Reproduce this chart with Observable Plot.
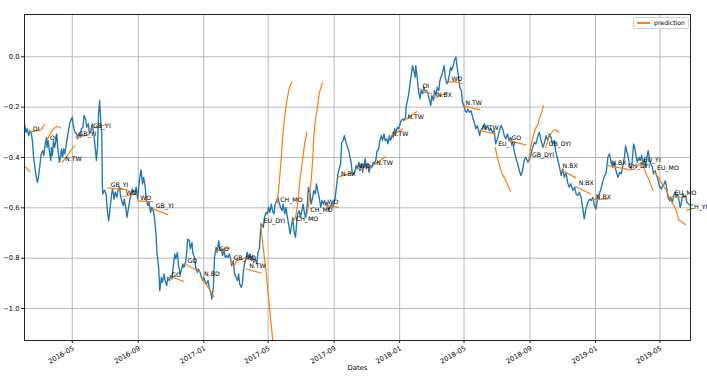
<!DOCTYPE html>
<html><head><meta charset="utf-8">
<script src="https://cdn.jsdelivr.net/npm/d3@7"></script>
<script src="https://cdn.jsdelivr.net/npm/@observablehq/plot@0.6"></script>
<style>
body{margin:0;background:#fff;}
#wrap{position:relative;width:707px;height:389px;font-family:"DejaVu Sans",sans-serif;}
#legend{position:absolute;left:633px;top:17px;width:54px;height:10px;border:1px solid #d0d0d0;border-radius:2px;background:#fff;font-size:6.2px;color:#000;}
#legend .sw{position:absolute;left:3px;top:4px;width:13px;height:1.5px;background:#ff7f0e;}
#legend .lb{position:absolute;left:20px;top:1px;line-height:8px;color:#000;}
</style></head>
<body><div id="wrap"></div>
<script>
const s2016 = [
["2016-02-02",-0.266],["2016-02-05",-0.30],["2016-02-07",-0.286],["2016-02-10",-0.313],["2016-02-12",-0.293],["2016-02-15",-0.306],["2016-02-17",-0.34],["2016-02-19",-0.40],["2016-02-23",-0.465],["2016-02-26",-0.499],["2016-02-28",-0.479],["2016-03-02",-0.425],["2016-03-04",-0.386],["2016-03-07",-0.373],["2016-03-09",-0.392],["2016-03-12",-0.34],["2016-03-14",-0.32],["2016-03-15",-0.36],["2016-03-17",-0.333],["2016-03-20",-0.386],["2016-03-22",-0.412],["2016-03-23",-0.36],["2016-03-25",-0.392],["2016-03-27",-0.333],["2016-03-29",-0.36],["2016-03-31",-0.34],["2016-04-02",-0.306],["2016-04-04",-0.36],["2016-04-05",-0.379],["2016-04-07",-0.419],["2016-04-09",-0.399],["2016-04-11",-0.366],["2016-04-13",-0.399],["2016-04-15",-0.366],["2016-04-17",-0.386],["2016-04-19",-0.36],["2016-04-21",-0.333],["2016-04-24",-0.293],["2016-04-26",-0.266],["2016-04-28",-0.253],["2016-05-01",-0.24],["2016-05-03",-0.273],["2016-05-06",-0.30],["2016-05-09",-0.306],["2016-05-11",-0.326],["2016-05-13",-0.306],["2016-05-16",-0.32],["2016-05-18",-0.286],["2016-05-21",-0.28],["2016-05-23",-0.233],["2016-05-26",-0.247],["2016-05-28",-0.28],["2016-05-31",-0.266],["2016-06-02",-0.306],["2016-06-05",-0.293],["2016-06-07",-0.266],["2016-06-10",-0.306],["2016-06-12",-0.346],["2016-06-15",-0.412],["2016-06-17",-0.36],["2016-06-19",-0.227],["2016-06-21",-0.174],["2016-06-23",-0.253],["2016-06-25",-0.306],["2016-06-26",-0.505],["2016-06-27",-0.545],["2016-06-30",-0.53],["2016-07-03",-0.545],["2016-07-06",-0.624],["2016-07-08",-0.651],["2016-07-10",-0.611],["2016-07-13",-0.551],["2016-07-15",-0.525],["2016-07-18",-0.565],["2016-07-20",-0.538],["2016-07-23",-0.558],["2016-07-25",-0.531],["2016-07-28",-0.518],["2016-07-30",-0.551],["2016-08-01",-0.571],["2016-08-04",-0.591],["2016-08-06",-0.565],["2016-08-09",-0.604],["2016-08-11",-0.638],["2016-08-14",-0.598],["2016-08-16",-0.571],["2016-08-19",-0.545],["2016-08-21",-0.525],["2016-08-25",-0.545],["2016-08-28",-0.518],["2016-08-31",-0.565],["2016-09-03",-0.492],["2016-09-06",-0.449],["2016-09-09",-0.505],["2016-09-11",-0.479],["2016-09-14",-0.518],["2016-09-16",-0.571],["2016-09-19",-0.591],["2016-09-21",-0.578],["2016-09-24",-0.618],["2016-09-26",-0.598],["2016-09-29",-0.611],["2016-10-01",-0.638],["2016-10-04",-0.704],["2016-10-06",-0.783],["2016-10-09",-0.837],["2016-10-11",-0.929],["2016-10-14",-0.876],["2016-10-16",-0.896],["2016-10-19",-0.863],["2016-10-21",-0.889],["2016-10-24",-0.909],["2016-10-26",-0.876],["2016-10-29",-0.889],["2016-10-31",-0.87],["2016-11-03",-0.883],["2016-11-05",-0.837],["2016-11-08",-0.783],["2016-11-10",-0.803],["2016-11-13",-0.777],["2016-11-15",-0.83],["2016-11-18",-0.863],["2016-11-20",-0.85],["2016-11-23",-0.823],["2016-11-25",-0.837],["2016-11-28",-0.817],["2016-11-30",-0.783],["2016-12-02",-0.724],["2016-12-05",-0.73],["2016-12-07",-0.763],["2016-12-10",-0.737],["2016-12-12",-0.783],["2016-12-15",-0.797],["2016-12-17",-0.837],["2016-12-20",-0.856],["2016-12-22",-0.843],["2016-12-25",-0.856],["2016-12-27",-0.87],["2016-12-30",-0.889]
];
const s2017 = [
["2017-01-01",-0.876],["2017-01-04",-0.896],["2017-01-06",-0.903],["2017-01-09",-0.889],["2017-01-11",-0.916],["2017-01-14",-0.936],["2017-01-16",-0.962],["2017-01-19",-0.916],["2017-01-21",-0.797],["2017-01-24",-0.757],["2017-01-26",-0.777],["2017-01-29",-0.731],["2017-01-31",-0.77],["2017-02-03",-0.763],["2017-02-05",-0.79],["2017-02-08",-0.77],["2017-02-10",-0.797],["2017-02-13",-0.79],["2017-02-15",-0.797],["2017-02-18",-0.783],["2017-02-20",-0.803],["2017-02-22",-0.83],["2017-02-25",-0.81],["2017-02-27",-0.856],["2017-03-02",-0.876],["2017-03-05",-0.889],["2017-03-07",-0.863],["2017-03-09",-0.903],["2017-03-12",-0.916],["2017-03-14",-0.9],["2017-03-16",-0.85],["2017-03-18",-0.823],["2017-03-21",-0.797],["2017-03-23",-0.777],["2017-03-26",-0.797],["2017-03-28",-0.783],["2017-03-31",-0.81],["2017-04-02",-0.79],["2017-04-04",-0.817],["2017-04-07",-0.803],["2017-04-10",-0.823],["2017-04-12",-0.777],["2017-04-15",-0.757],["2017-04-17",-0.678],["2017-04-19",-0.664],["2017-04-22",-0.678],["2017-04-24",-0.638],["2017-04-27",-0.618],["2017-04-29",-0.624],["2017-05-02",-0.598],["2017-05-04",-0.618],["2017-05-07",-0.585],["2017-05-09",-0.611],["2017-05-12",-0.624],["2017-05-14",-0.585],["2017-05-17",-0.571],["2017-05-19",-0.558],["2017-05-22",-0.585],["2017-05-24",-0.598],["2017-05-27",-0.611],["2017-05-29",-0.585],["2017-06-01",-0.624],["2017-06-03",-0.598],["2017-06-06",-0.638],["2017-06-08",-0.664],["2017-06-11",-0.704],["2017-06-13",-0.678],["2017-06-16",-0.638],["2017-06-18",-0.691],["2017-06-21",-0.717],["2017-06-23",-0.664],["2017-06-25",-0.624],["2017-06-28",-0.611],["2017-06-30",-0.638],["2017-07-03",-0.611],["2017-07-05",-0.585],["2017-07-08",-0.624],["2017-07-10",-0.638],["2017-07-13",-0.585],["2017-07-15",-0.518],["2017-07-18",-0.545],["2017-07-20",-0.585],["2017-07-23",-0.558],["2017-07-25",-0.531],["2017-07-28",-0.545],["2017-07-30",-0.505],["2017-08-02",-0.538],["2017-08-04",-0.558],["2017-08-07",-0.598],["2017-08-09",-0.571],["2017-08-12",-0.585],["2017-08-14",-0.571],["2017-08-17",-0.591],["2017-08-19",-0.578],["2017-08-22",-0.611],["2017-08-24",-0.598],["2017-08-27",-0.585],["2017-08-29",-0.598],["2017-09-01",-0.578],["2017-09-03",-0.558],["2017-09-06",-0.505],["2017-09-08",-0.465],["2017-09-11",-0.439],["2017-09-13",-0.425],["2017-09-15",-0.34],["2017-09-18",-0.333],["2017-09-20",-0.313],["2017-09-23",-0.34],["2017-09-25",-0.353],["2017-09-28",-0.373],["2017-09-30",-0.392],["2017-10-03",-0.425],["2017-10-05",-0.47],["2017-10-09",-0.459],["2017-10-12",-0.432],["2017-10-14",-0.445],["2017-10-17",-0.419],["2017-10-19",-0.452],["2017-10-22",-0.425],["2017-10-24",-0.459],["2017-10-26",-0.432],["2017-10-29",-0.406],["2017-10-31",-0.445],["2017-11-03",-0.425],["2017-11-05",-0.459],["2017-11-08",-0.432],["2017-11-10",-0.439],["2017-11-13",-0.419],["2017-11-15",-0.425],["2017-11-18",-0.406],["2017-11-20",-0.373],["2017-11-23",-0.366],["2017-11-25",-0.333],["2017-11-28",-0.313],["2017-11-30",-0.333],["2017-12-03",-0.306],["2017-12-05",-0.333],["2017-12-08",-0.326],["2017-12-10",-0.346],["2017-12-13",-0.313],["2017-12-15",-0.333],["2017-12-18",-0.313],["2017-12-20",-0.32],["2017-12-23",-0.286],["2017-12-25",-0.30],["2017-12-28",-0.28],["2017-12-30",-0.286]
];
const s2018 = [
["2018-01-02",-0.266],["2018-01-04",-0.253],["2018-01-07",-0.247],["2018-01-09",-0.253],["2018-01-12",-0.24],["2018-01-13",-0.20],["2018-01-15",-0.18],["2018-01-18",-0.147],["2018-01-20",-0.114],["2018-01-23",-0.068],["2018-01-25",-0.035],["2018-01-28",-0.061],["2018-01-30",-0.081],["2018-01-31",-0.035],["2018-02-03",-0.087],["2018-02-05",-0.134],["2018-02-08",-0.167],["2018-02-10",-0.134],["2018-02-13",-0.147],["2018-02-15",-0.121],["2018-02-18",-0.141],["2018-02-20",-0.134],["2018-02-23",-0.147],["2018-02-25",-0.167],["2018-02-28",-0.194],["2018-03-02",-0.154],["2018-03-05",-0.174],["2018-03-07",-0.134],["2018-03-10",-0.154],["2018-03-12",-0.121],["2018-03-15",-0.134],["2018-03-17",-0.094],["2018-03-20",-0.074],["2018-03-22",-0.061],["2018-03-25",-0.035],["2018-03-27",-0.081],["2018-03-30",-0.107],["2018-04-01",-0.101],["2018-04-04",-0.068],["2018-04-06",-0.041],["2018-04-08",-0.054],["2018-04-11",-0.035],["2018-04-13",-0.015],["2018-04-16",-0.001],["2018-04-18",-0.041],["2018-04-21",-0.081],["2018-04-23",-0.121],["2018-04-26",-0.134],["2018-04-28",-0.18],["2018-05-01",-0.194],["2018-05-03",-0.214],["2018-05-06",-0.22],["2018-05-08",-0.207],["2018-05-11",-0.22],["2018-05-14",-0.214],["2018-05-17",-0.24],["2018-05-20",-0.26],["2018-05-23",-0.286],["2018-05-26",-0.273],["2018-05-30",-0.313],["2018-06-01",-0.293],["2018-06-05",-0.28],["2018-06-08",-0.266],["2018-06-11",-0.286],["2018-06-14",-0.273],["2018-06-17",-0.293],["2018-06-20",-0.286],["2018-06-23",-0.30],["2018-06-26",-0.293],["2018-06-29",-0.346],["2018-07-03",-0.32],["2018-07-06",-0.293],["2018-07-09",-0.273],["2018-07-12",-0.286],["2018-07-15",-0.313],["2018-07-18",-0.326],["2018-07-21",-0.306],["2018-07-24",-0.333],["2018-07-27",-0.32],["2018-07-31",-0.346],["2018-08-03",-0.379],["2018-08-06",-0.406],["2018-08-09",-0.425],["2018-08-12",-0.452],["2018-08-15",-0.472],["2018-08-18",-0.452],["2018-08-21",-0.412],["2018-08-24",-0.399],["2018-08-28",-0.419],["2018-08-31",-0.406],["2018-09-03",-0.386],["2018-09-06",-0.36],["2018-09-09",-0.34],["2018-09-12",-0.346],["2018-09-15",-0.32],["2018-09-18",-0.30],["2018-09-21",-0.326],["2018-09-25",-0.36],["2018-09-28",-0.34],["2018-10-01",-0.313],["2018-10-04",-0.333],["2018-10-07",-0.306],["2018-10-10",-0.32],["2018-10-13",-0.346],["2018-10-16",-0.333],["2018-10-19",-0.379],["2018-10-23",-0.412],["2018-10-26",-0.439],["2018-10-29",-0.472],["2018-11-01",-0.445],["2018-11-04",-0.479],["2018-11-07",-0.459],["2018-11-10",-0.499],["2018-11-13",-0.518],["2018-11-16",-0.505],["2018-11-20",-0.531],["2018-11-23",-0.518],["2018-11-26",-0.545],["2018-11-29",-0.551],["2018-12-02",-0.538],["2018-12-05",-0.558],["2018-12-08",-0.598],["2018-12-11",-0.644],["2018-12-14",-0.604],["2018-12-18",-0.578],["2018-12-21",-0.565],["2018-12-24",-0.571],["2018-12-27",-0.558],["2018-12-30",-0.591]
];
const s2019 = [
["2019-01-02",-0.604],["2019-01-05",-0.558],["2019-01-08",-0.545],["2019-01-11",-0.525],["2019-01-15",-0.492],["2019-01-18",-0.472],["2019-01-21",-0.459],["2019-01-24",-0.399],["2019-01-27",-0.386],["2019-01-30",-0.419],["2019-02-02",-0.439],["2019-02-05",-0.419],["2019-02-08",-0.452],["2019-02-12",-0.479],["2019-02-15",-0.459],["2019-02-18",-0.465],["2019-02-21",-0.432],["2019-02-24",-0.399],["2019-02-26",-0.353],["2019-02-28",-0.373],["2019-03-03",-0.399],["2019-03-05",-0.425],["2019-03-08",-0.445],["2019-03-10",-0.425],["2019-03-13",-0.346],["2019-03-15",-0.36],["2019-03-18",-0.399],["2019-03-20",-0.419],["2019-03-23",-0.399],["2019-03-25",-0.412],["2019-03-28",-0.392],["2019-03-30",-0.425],["2019-04-02",-0.406],["2019-04-04",-0.439],["2019-04-07",-0.399],["2019-04-09",-0.373],["2019-04-12",-0.412],["2019-04-14",-0.425],["2019-04-17",-0.439],["2019-04-19",-0.465],["2019-04-22",-0.452],["2019-04-24",-0.465],["2019-04-27",-0.485],["2019-04-29",-0.505],["2019-05-01",-0.518],["2019-05-04",-0.525],["2019-05-06",-0.512],["2019-05-09",-0.505],["2019-05-11",-0.492],["2019-05-14",-0.525],["2019-05-16",-0.558],["2019-05-19",-0.571],["2019-05-21",-0.558],["2019-05-24",-0.578],["2019-05-26",-0.558],["2019-05-29",-0.538],["2019-05-31",-0.558],["2019-06-03",-0.545],["2019-06-05",-0.565],["2019-06-08",-0.598],["2019-06-10",-0.578],["2019-06-13",-0.545],["2019-06-15",-0.558],["2019-06-18",-0.551],["2019-06-20",-0.578],["2019-06-26",-0.59]
];

const predLabels = ["", "OI", "OI", "N.TW", "GB_YI", "GB_YI", "GB_YI", "WO", "WO", "GB_YI", "GO", "GO", "N.BD", "GO", "GB_MO", "N.TW", "EU_DYI", "CH_MO", "CH_MO", "CH_MO", "WO", "N.BX", "WO", "N.TW", "N.TW", "N.TW", "OI", "N.BX", "WO", "N.TW", "N.TW", "EU_YI", "GO", "GB_DYI", "GB_DYI", "N.BX", "N.BX", "N.BX", "N.BX", "CH_DYI", "EU_YI", "EU_MO", "EU_MO", "CH_YI"];
const predPaths = [
[["2016-02-02",-0.437],["2016-02-07",-0.444],["2016-02-12",-0.456]],
[["2016-02-12",-0.297],["2016-02-19",-0.296],["2016-02-27",-0.293],["2016-03-03",-0.29],["2016-03-06",-0.284],["2016-03-10",-0.269]],
[["2016-03-15",-0.333],["2016-03-22",-0.30],["2016-03-28",-0.284],["2016-04-03",-0.277],["2016-04-09",-0.282]],
[["2016-04-12",-0.419],["2016-04-22",-0.392],["2016-04-28",-0.373],["2016-05-05",-0.355]],
[["2016-05-07",-0.32],["2016-06-01",-0.31]],
[["2016-06-03",-0.286],["2016-07-02",-0.27]],
[["2016-07-06",-0.521],["2016-08-12",-0.529]],
[["2016-08-03",-0.555],["2016-08-31",-0.545]],
[["2016-08-30",-0.572],["2016-09-28",-0.575]],
[["2016-09-28",-0.604],["2016-10-26",-0.627]],
[["2016-10-27",-0.88],["2016-11-06",-0.877],["2016-11-24",-0.892]],
[["2016-11-26",-0.822],["2016-12-24",-0.854]],
[["2016-12-27",-0.876],["2017-01-04",-0.9],["2017-01-12",-0.925],["2017-01-20",-0.953]],
[["2017-01-24",-0.774],["2017-02-05",-0.765],["2017-02-18",-0.76]],
[["2017-02-20",-0.81],["2017-02-26",-0.835],["2017-03-03",-0.81],["2017-03-20",-0.80],["2017-04-06",-0.81]],
[["2017-03-21",-0.843],["2017-04-18",-0.859]],
[["2017-04-17",-0.664],["2017-04-21",-0.744],["2017-04-24",-0.797],["2017-04-27",-0.85],["2017-04-30",-0.916],["2017-05-03",-0.982],["2017-05-06",-1.049],["2017-05-09",-1.115],["2017-05-11",-1.16]],
[["2017-05-18",-0.58],["2017-05-22",-0.492],["2017-05-25",-0.412],["2017-05-28",-0.32],["2017-05-31",-0.253],["2017-06-03",-0.2],["2017-06-06",-0.161],["2017-06-09",-0.127],["2017-06-14",-0.101]],
[["2017-06-16",-0.658],["2017-06-21",-0.638],["2017-06-25",-0.585],["2017-06-29",-0.492],["2017-07-04",-0.412],["2017-07-08",-0.346],["2017-07-12",-0.30]],
[["2017-07-13",-0.62],["2017-07-16",-0.58],["2017-07-20",-0.492],["2017-07-23",-0.412],["2017-07-25",-0.32],["2017-07-28",-0.253],["2017-08-01",-0.2],["2017-08-04",-0.147],["2017-08-10",-0.103]],
[["2017-08-14",-0.59],["2017-09-09",-0.598]],
[["2017-09-08",-0.478],["2017-10-05",-0.46]],
[["2017-10-12",-0.445],["2017-11-09",-0.437]],
[["2017-11-13",-0.432],["2017-12-06",-0.397]],
[["2017-12-12",-0.32],["2018-01-07",-0.286]],
[["2018-01-10",-0.253],["2018-02-02",-0.217]],
[["2018-02-07",-0.127],["2018-03-02",-0.147]],
[["2018-03-06",-0.163],["2018-03-31",-0.143]],
[["2018-04-02",-0.101],["2018-04-15",-0.099],["2018-04-28",-0.107]],
[["2018-04-28",-0.194],["2018-05-30",-0.211]],
[["2018-05-29",-0.293],["2018-06-28",-0.306]],
[["2018-06-28",-0.36],["2018-07-02",-0.399],["2018-07-07",-0.439],["2018-07-11",-0.465],["2018-07-18",-0.492],["2018-07-22",-0.512],["2018-07-27",-0.534]],
[["2018-07-23",-0.333],["2018-08-24",-0.35]],
[["2018-08-30",-0.404],["2018-09-02",-0.36],["2018-09-05",-0.333],["2018-09-08",-0.306],["2018-09-11",-0.286],["2018-09-16",-0.266],["2018-09-19",-0.24],["2018-09-23",-0.22],["2018-09-26",-0.194]],
[["2018-09-30",-0.36],["2018-10-06",-0.32],["2018-10-13",-0.296],["2018-10-19",-0.29],["2018-10-25",-0.30]],
[["2018-10-26",-0.447],["2018-11-25",-0.48]],
[["2018-11-25",-0.515],["2018-12-23",-0.545]],
[["2018-12-27",-0.567],["2019-01-26",-0.565]],
[["2019-01-25",-0.432],["2019-02-25",-0.445]],
[["2019-02-25",-0.445],["2019-03-07",-0.449],["2019-03-15",-0.445],["2019-03-24",-0.425],["2019-03-28",-0.419]],
[["2019-03-26",-0.42],["2019-04-01",-0.44],["2019-04-04",-0.459],["2019-04-11",-0.49],["2019-04-18",-0.532]],
[["2019-04-20",-0.455],["2019-04-27",-0.475],["2019-05-03",-0.497],["2019-05-09",-0.517],["2019-05-15",-0.54],["2019-05-21",-0.57],["2019-05-27",-0.591],["2019-06-01",-0.615],["2019-06-05",-0.648],["2019-06-12",-0.657],["2019-06-18",-0.667]],
[["2019-05-23",-0.555],["2019-06-20",-0.56]],
[["2019-06-20",-0.61],["2019-06-27",-0.605]]
];

const yTicks = [-1.0, -0.8, -0.6, -0.4, -0.2, 0.0];
const xTicks = ["2016-05-01","2016-09-01","2017-01-01","2017-05-01","2017-09-01","2018-01-01","2018-05-01","2018-09-01","2019-01-01","2019-05-01"];
const xDomain = ["2016-02-02","2019-06-27"];
const yDomain = [-1.127, 0.168];
const xTitle = "Dates";
const legendText = "prediction";

const series = [...s2016, ...s2017, ...s2018, ...s2019].map(([d, v]) => ({date: new Date(d), value: v}));
const pred = predPaths.flatMap((path, i) => path.map(([d, v]) => ({id: i, date: new Date(d), value: v})));
const labels = predPaths.map((path, i) => ({label: predLabels[i], date: new Date(path[0][0]), value: path[0][1]})).filter(d => d.label);
const xTickDates = xTicks.map(d => new Date(d));
const fmtY = d3.format(".1f");
const fmtX = d3.utcFormat("%Y-%m");

const chart = Plot.plot({
  width: 707, height: 389,
  marginLeft: 24, marginRight: 17, marginTop: 14, marginBottom: 49,
  style: {fontFamily: "'DejaVu Sans', sans-serif", fontSize: "6.5px", background: "#fff", color: "#000"},
  x: {type: "utc", domain: xDomain.map(d => new Date(d)), label: null},
  y: {domain: yDomain, label: null},
  marks: [
    Plot.ruleX(xTickDates, {x: d => d, stroke: "#b0b0b0", strokeWidth: 0.9, strokeOpacity: 1}),
    Plot.ruleY(yTicks, {y: d => d, stroke: "#b0b0b0", strokeWidth: 0.9, strokeOpacity: 1}),
    Plot.line(series, {x: "date", y: "value", stroke: "#1f77b4", strokeWidth: 1.35, clip: true}),
    Plot.line(pred, {x: "date", y: "value", z: "id", stroke: "#ff7f0e", strokeWidth: 1.2, clip: true}),
    Plot.text(labels, {x: "date", y: "value", text: "label", dx: 3, dy: -3, textAnchor: "start", lineAnchor: "middle", fontSize: 6.2, fill: "#000"}),
    Plot.frame({stroke: "#222", strokeWidth: 1}),
    Plot.axisY(yTicks, {tickSize: 3, tickPadding: 2, tickFormat: fmtY, fontSize: 6.8, label: null, stroke: "#222"}),
    Plot.axisX(xTickDates, {tickSize: 3, tickFormat: () => "", label: null, stroke: "#222"}),
    Plot.text(xTickDates, {x: d => d, frameAnchor: "bottom", dy: 5, rotate: -30, textAnchor: "end", lineAnchor: "top", text: d => fmtX(d), fontSize: 6.8, fill: "#000"}),
    Plot.text([xTitle], {frameAnchor: "bottom", dy: 27, lineAnchor: "middle", text: d => d, fontSize: 6.8, fill: "#000"})
  ]
});
const wrap = document.getElementById("wrap");
wrap.appendChild(chart);
const lg = document.createElement("div");
lg.id = "legend";
lg.innerHTML = `<div class="sw"></div><div class="lb">${legendText}</div>`;
wrap.appendChild(lg);
</script>
</body></html>
